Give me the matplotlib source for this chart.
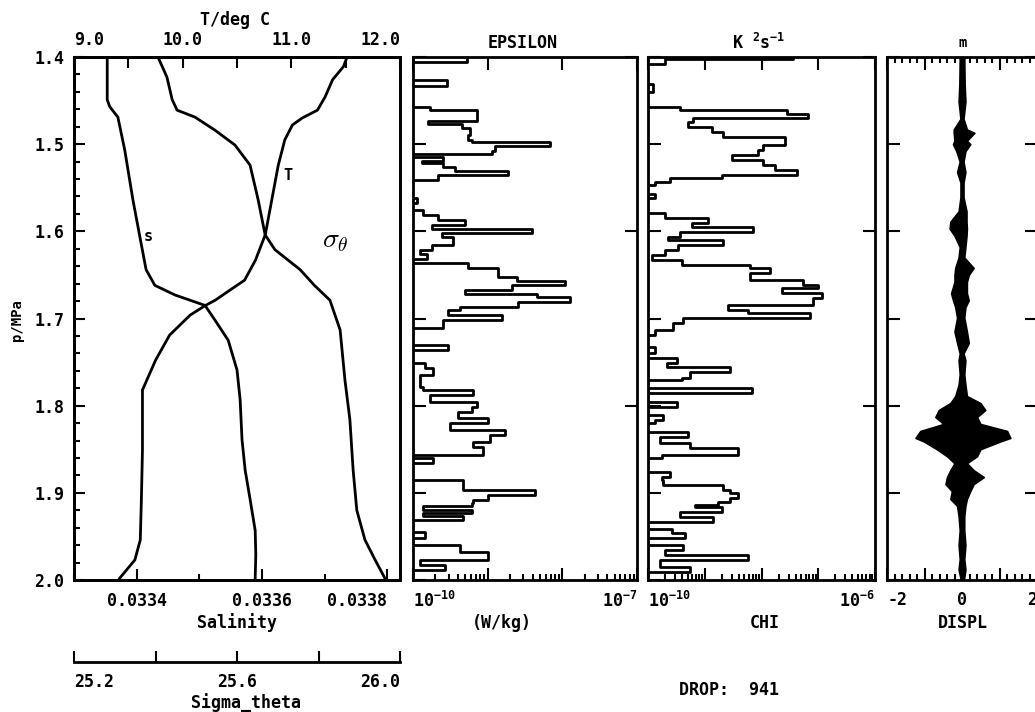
import matplotlib
matplotlib.use('Agg')
import matplotlib.pyplot as plt
import numpy as np
from matplotlib.ticker import MultipleLocator, FixedLocator, LogLocator, NullFormatter

plt.rc('font', family='DejaVu Sans Mono', weight='bold', size=12)
plt.rc('mathtext', fontset='custom', rm='DejaVu Sans Mono:bold',
       it='DejaVu Sans Mono:bold', bf='DejaVu Sans Mono:bold')

# temperature profile (deg C) vs pressure (MPa)
t_p = [1.401, 1.411, 1.426, 1.446, 1.461, 1.470, 1.478, 1.495, 1.524, 1.564,
       1.604, 1.633, 1.656, 1.667, 1.679, 1.685, 1.696, 1.719, 1.748, 1.782,
       1.851, 1.908, 1.954, 1.977, 1.998]
t_val = [11.51, 11.48, 11.38, 11.31, 11.24, 11.10, 11.01, 10.94, 10.88, 10.82,
         10.76, 10.67, 10.57, 10.44, 10.30, 10.21, 10.07, 9.88, 9.75, 9.63,
         9.63, 9.62, 9.61, 9.56, 9.42]

# salinity
s_p = [1.400, 1.449, 1.457, 1.469, 1.507, 1.564, 1.606, 1.644, 1.662, 1.673,
       1.679, 1.685, 1.702, 1.725, 1.759, 1.793, 1.839, 1.874, 1.908, 1.943,
       1.971, 1.998]
s_val = [0.033353, 0.033353, 0.033357, 0.033370, 0.033381, 0.033394, 0.033405,
         0.033415, 0.033429, 0.033461, 0.033485, 0.033509, 0.033525, 0.033546,
         0.033560, 0.033565, 0.033568, 0.033573, 0.033581, 0.033589, 0.033590,
         0.033589]

# sigma_theta
g_p = [1.400, 1.423, 1.449, 1.461, 1.469, 1.484, 1.501, 1.524, 1.564, 1.604,
       1.621, 1.644, 1.662, 1.679, 1.713, 1.771, 1.816, 1.874, 1.920, 1.954,
       1.977, 1.998]
g_val = [25.406, 25.428, 25.441, 25.453, 25.497, 25.546, 25.595, 25.632, 25.652,
         25.669, 25.693, 25.755, 25.790, 25.828, 25.853, 25.865, 25.877, 25.885,
         25.894, 25.914, 25.939, 25.963]

# epsilon, log10(W/kg), bins given by their top pressure
eps_top = [1.400, 1.406, 1.426, 1.433, 1.457, 1.461, 1.473, 1.477, 1.481, 1.489,
           1.495, 1.498, 1.502, 1.508, 1.511, 1.515, 1.519, 1.522, 1.526, 1.531,
           1.535, 1.541, 1.562, 1.567, 1.576, 1.581, 1.587, 1.593, 1.597, 1.602,
           1.606, 1.616, 1.621, 1.626, 1.632, 1.636, 1.642, 1.652, 1.657, 1.662,
           1.667, 1.672, 1.675, 1.681, 1.687, 1.690, 1.696, 1.702, 1.711, 1.730,
           1.736, 1.751, 1.757, 1.765, 1.779, 1.782, 1.788, 1.796, 1.802, 1.807,
           1.814, 1.820, 1.828, 1.834, 1.842, 1.847, 1.857, 1.860, 1.866, 1.885,
           1.897, 1.902, 1.908, 1.912, 1.915, 1.920, 1.923, 1.927, 1.931, 1.945,
           1.952, 1.960, 1.968, 1.977, 1.983, 1.989]
eps_log = [-9.28, -10.5, -9.54, -10.5, -9.77, -9.14, -9.80, -9.34, -9.24, -9.26,
           -9.21, -8.17, -8.90, -8.94, -10.5, -9.60, -9.88, -9.60, -9.44, -8.73,
           -9.67, -10.5, -9.95, -10.5, -9.87, -9.67, -9.30, -9.75, -8.41, -9.61,
           -9.46, -9.75, -9.91, -9.81, -10.5, -9.26, -8.86, -8.61, -7.97, -8.67,
           -9.30, -8.34, -7.90, -8.59, -9.37, -9.53, -8.81, -9.60, -10.5, -9.53,
           -10.5, -9.84, -9.73, -9.91, -9.87, -9.20, -9.77, -9.14, -9.21, -9.40,
           -9.00, -9.50, -8.77, -8.97, -9.20, -9.06, -10.5, -9.73, -10.5, -9.33,
           -8.37, -9.00, -9.20, -9.21, -9.87, -9.21, -9.87, -9.33, -10.5, -9.84,
           -10.5, -9.37, -9.00, -9.91, -9.57, -10.5]

# chi, log10(K^2/s)
chi_top = [1.400, 1.402, 1.408, 1.431, 1.440, 1.457, 1.461, 1.465, 1.470, 1.475,
           1.480, 1.486, 1.492, 1.501, 1.507, 1.512, 1.518, 1.524, 1.530, 1.535,
           1.539, 1.543, 1.547, 1.557, 1.562, 1.579, 1.585, 1.590, 1.595, 1.601,
           1.606, 1.610, 1.616, 1.621, 1.627, 1.633, 1.639, 1.642, 1.648, 1.656,
           1.662, 1.665, 1.671, 1.676, 1.685, 1.690, 1.694, 1.699, 1.705, 1.713,
           1.719, 1.733, 1.740, 1.745, 1.751, 1.756, 1.761, 1.768, 1.771, 1.780,
           1.785, 1.796, 1.802, 1.811, 1.816, 1.820, 1.830, 1.836, 1.843, 1.849,
           1.857, 1.860, 1.876, 1.882, 1.885, 1.891, 1.897, 1.900, 1.906, 1.911,
           1.914, 1.916, 1.922, 1.928, 1.934, 1.941, 1.946, 1.952, 1.960, 1.966,
           1.971, 1.977, 1.985, 1.991]
chi_log = [-7.44, -9.70, -10.5, -9.91, -10.5, -9.44, -7.55, -7.18, -9.21, -9.30,
           -8.87, -8.68, -7.59, -7.97, -8.06, -8.52, -7.97, -7.76, -7.37, -8.70,
           -9.61, -9.88, -10.5, -9.88, -10.5, -9.70, -8.94, -9.23, -8.15, -9.44,
           -9.65, -8.68, -9.47, -9.70, -9.93, -9.40, -8.20, -7.85, -8.20, -7.27,
           -7.00, -7.64, -6.93, -7.09, -8.59, -8.24, -7.15, -9.38, -9.56, -9.88,
           -10.5, -9.88, -10.5, -9.49, -9.67, -8.56, -9.26, -9.40, -10.5, -8.17,
           -10.5, -9.49, -10.5, -9.74, -9.88, -10.5, -9.30, -9.79, -9.26, -8.41,
           -9.75, -10.5, -9.61, -9.75, -9.74, -8.68, -8.56, -8.41, -8.56, -8.77,
           -9.17, -8.70, -9.44, -8.85, -10.5, -9.58, -9.35, -10.5, -9.38, -9.70,
           -8.24, -9.79, -9.26, -10.5]

# displacement envelope (m)
d_p = [1.400, 1.402, 1.431, 1.451, 1.471, 1.483, 1.487, 1.496, 1.500, 1.508,
       1.520, 1.532, 1.544, 1.561, 1.577, 1.589, 1.597, 1.605, 1.618, 1.630,
       1.642, 1.650, 1.658, 1.671, 1.679, 1.687, 1.699, 1.715, 1.728, 1.740,
       1.748, 1.764, 1.776, 1.789, 1.797, 1.805, 1.813, 1.821, 1.829, 1.837,
       1.841, 1.850, 1.858, 1.866, 1.874, 1.882, 1.890, 1.898, 1.907, 1.915,
       1.927, 1.943, 1.960, 1.976, 1.988, 2.000]
d_lo = [-0.10, -0.06, -0.07, -0.09, -0.04, -0.22, -0.22, -0.20, -0.24, -0.15,
        -0.06, -0.13, -0.04, -0.04, -0.09, -0.31, -0.33, -0.20, -0.06, -0.09,
        -0.18, -0.20, -0.20, -0.29, -0.24, -0.18, -0.13, -0.20, -0.13, -0.06,
        -0.09, -0.06, -0.09, -0.18, -0.31, -0.62, -0.71, -0.49, -1.11, -1.24,
        -1.02, -0.67, -0.40, -0.20, -0.31, -0.40, -0.44, -0.27, -0.31, -0.13,
        -0.09, -0.06, -0.09, -0.06, -0.09, -0.03]
d_hi = [0.10, 0.06, 0.07, 0.09, 0.04, 0.13, 0.33, 0.13, 0.22, 0.09,
        0.04, 0.09, 0.04, 0.04, 0.12, 0.12, 0.13, 0.12, 0.09, 0.06,
        0.31, 0.18, 0.13, 0.13, 0.18, 0.09, 0.06, 0.13, 0.18, 0.04,
        0.09, 0.06, 0.09, 0.13, 0.49, 0.62, 0.40, 0.49, 1.20, 1.29,
        1.02, 0.49, 0.40, 0.13, 0.31, 0.58, 0.31, 0.22, 0.13, 0.09,
        0.06, 0.06, 0.09, 0.06, 0.09, 0.05]

W, H = 1035, 712


def rect(x0, y0, x1, y1):
    return [x0 / W, 1 - y1 / H, (x1 - x0) / W, (y1 - y0) / H]


def steps(tops, vals):
    edges = list(tops) + [2.0]
    xs, ys = [], []
    for i, v in enumerate(vals):
        xs += [10 ** v, 10 ** v]
        ys += [edges[i], edges[i + 1]]
    return xs, ys


LW = 2.0
fig = plt.figure(figsize=(W / 100, H / 100), dpi=100)

# ---- panel 1: T, S, sigma
ax = fig.add_axes(rect(74, 57, 400, 580))
ax.plot(s_val, s_p, color='k', lw=LW)
ax.set_xlim(0.03330, 0.03382)
ax.set_ylim(2.0, 1.4)
ax.xaxis.set_major_locator(FixedLocator([0.0334, 0.0336, 0.0338]))
ax.xaxis.set_minor_locator(MultipleLocator(0.0001))
ax.set_xticklabels(['0.0334', '0.0336', '0.0338'])
ax.get_xticklabels()[2].set_ha('right')
ax.yaxis.set_minor_locator(MultipleLocator(0.02))
ax.set_yticks(np.arange(1.4, 2.01, 0.1))
ax.set_yticklabels(['1.4', '1.5', '1.6', '1.7', '1.8', '1.9', '2.0'])
ax.tick_params(which='both', direction='in', top=False, right=False, width=1.5)
ax.tick_params(which='major', length=8)
ax.tick_params(which='minor', length=4)
ax.tick_params(axis='x', pad=9)
ax.tick_params(axis='y', pad=7)

axt = ax.twiny()
axt.plot(t_val, t_p, color='k', lw=LW)
axt.set_xlim(9.0, 12.0)
axt.set_xticks([9.0, 9.5, 10.0, 10.5, 11.0, 11.5, 12.0])
axt.set_xticklabels(['9.0', '', '10.0', '', '11.0', '', '12.0'])
axt.get_xticklabels()[0].set_ha('left')
axt.get_xticklabels()[-1].set_ha('right')
axt.tick_params(direction='in', length=8, width=1.5, pad=6)

axg = ax.twiny()
axg.plot(g_val, g_p, color='k', lw=LW)
axg.set_xlim(25.2, 26.0)
axg.set_xticks([])
for s in axg.spines.values():
    s.set_visible(False)

for a in (ax, axt):
    for s in a.spines.values():
        s.set_linewidth(2)

fig.text(148 / W, 1 - 237 / H, 's', ha='center', va='center', fontsize=11)
fig.text(288 / W, 1 - 175 / H, 'T', ha='center', va='center', fontsize=11)
fig.text(335 / W, 1 - 240 / H, r'$\sigma_\theta$', ha='center', va='center',
         fontsize=20, math_fontfamily='cm', fontweight='normal')

# sigma_theta scale under the panel
axs = fig.add_axes(rect(74, 661, 400, 662))
axs.set_xlim(25.2, 26.0)
axs.set_yticks([])
axs.patch.set_visible(False)
for k in ('left', 'right', 'top'):
    axs.spines[k].set_visible(False)
axs.spines['bottom'].set_linewidth(2)
axs.set_xticks([25.2, 25.4, 25.6, 25.8, 26.0])
axs.set_xticklabels(['25.2', '', '25.6', '', '26.0'])
axs.get_xticklabels()[0].set_ha('left')
axs.get_xticklabels()[-1].set_ha('right')
axs.tick_params(direction='in', length=8, width=1.5, pad=8)

fig.text(235 / W, 1 - 20 / H, 'T/deg C', ha='center', va='center')
fig.text(237 / W, 1 - 623 / H, 'Salinity', ha='center', va='center')
fig.text(246 / W, 1 - 703 / H, 'Sigma_theta', ha='center', va='center')
fig.text(17 / W, 1 - 320 / H, 'p/MPa', ha='center', va='center', rotation=90,
         fontsize=10)


def profile_axes(x0, x1, lims):
    a = fig.add_axes(rect(x0, 57, x1, 580))
    a.set_xscale('log')
    a.set_xlim(*lims)
    a.set_ylim(2.0, 1.4)
    a.yaxis.set_major_locator(MultipleLocator(0.1))
    a.set_yticklabels([])
    a.xaxis.set_minor_locator(LogLocator(base=10, subs=np.arange(2, 10), numticks=10))
    a.xaxis.set_minor_formatter(NullFormatter())
    a.tick_params(which='both', direction='in', top=True, width=1.5)
    a.tick_params(which='major', length=9)
    a.tick_params(which='minor', length=4, top=False)
    a.tick_params(axis='x', pad=8)
    for s in a.spines.values():
        s.set_linewidth(2)
    r = a.twinx()
    r.set_ylim(2.0, 1.4)
    r.set_yticks([1.4, 1.6, 1.8, 2.0])
    r.set_yticklabels([])
    r.tick_params(direction='in', length=9, width=1.5)
    return a


# ---- panel 2: epsilon
ae = profile_axes(413, 637, (1e-10, 1e-7))
x, y = steps(eps_top, eps_log)
ae.plot(x, y, color='k', lw=LW, solid_joinstyle='round')
ae.set_xticks([1e-10, 1e-9, 1e-8, 1e-7])
ae.set_xticklabels([r'$10^{-10}$', '', '', r'$10^{-7}$'])
ae.get_xticklabels()[0].set_ha('left')
ae.get_xticklabels()[-1].set_ha('right')
fig.text(523 / W, 1 - 43 / H, 'EPSILON', ha='center', va='center')
fig.text(502 / W, 1 - 623 / H, '(W/kg)', ha='center', va='center')

# ---- panel 3: chi
ac = profile_axes(648, 875, (1e-10, 1e-6))
x, y = steps(chi_top, chi_log)
ac.plot(x, y, color='k', lw=LW, solid_joinstyle='round')
ac.set_xticks([1e-10, 1e-9, 1e-8, 1e-7, 1e-6])
ac.set_xticklabels([r'$10^{-10}$', '', '', '', r'$10^{-6}$'])
ac.get_xticklabels()[0].set_ha('left')
ac.get_xticklabels()[-1].set_ha('right')
fig.text(759 / W, 1 - 43 / H, r'K $^2$s$^{-1}$', ha='center', va='center')
fig.text(765 / W, 1 - 623 / H, 'CHI', ha='center', va='center')

# ---- panel 4: displacement
ad = fig.add_axes(rect(887, 57, 1037, 580))
ad.fill_betweenx(d_p, d_lo, d_hi, color='k', lw=1.2)
ad.plot([0, 0], [1.4, 2.0], color='k', lw=2)
ad.set_xlim(-2, 2)
ad.set_ylim(2.0, 1.4)
ad.set_xticks([-2, -1, 0, 1, 2])
ad.set_xticklabels(['-2', '', '0', '', '2'])
ad.get_xticklabels()[0].set_ha('left')
ad.get_xticklabels()[-1].set_ha('right')
ad.xaxis.set_minor_locator(MultipleLocator(0.2))
ad.yaxis.set_major_locator(MultipleLocator(0.1))
ad.set_yticklabels([])
ad.tick_params(which='both', direction='in', top=True, right=True, width=1.5)
ad.tick_params(which='major', length=9)
ad.tick_params(which='minor', length=4)
ad.tick_params(axis='x', pad=8)
ad.tick_params(axis='y', which='minor', left=False, right=False)
for s in ad.spines.values():
    s.set_linewidth(2)
fig.text(963 / W, 1 - 43 / H, 'm', ha='center', va='center', fontsize=10)
fig.text(963 / W, 1 - 623 / H, 'DISPL', ha='center', va='center')

fig.text(729 / W, 1 - 690 / H, 'DROP:  941', ha='center', va='center')

fig.savefig('out.png', dpi=100)
